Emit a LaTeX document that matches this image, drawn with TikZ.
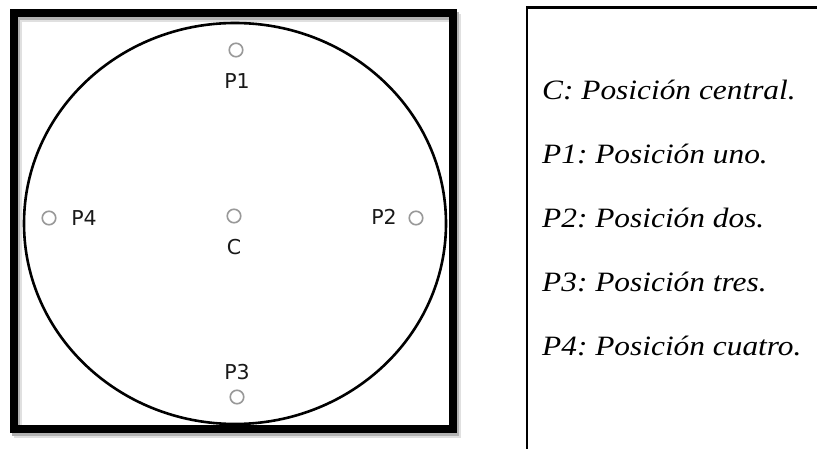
\documentclass[tikz,border=0pt]{standalone}
\usepackage{fontspec}
\usepackage{graphicx}
\setmainfont{Liberation Serif}[ItalicFont=Liberation Serif Italic]
\newfontfamily\timesit{Liberation Serif Italic}
\newfontfamily\dejavu{DejaVu Sans}
\frenchspacing
\begin{document}
\begin{tikzpicture}[x=1pt,y=-1pt,
  posmark/.style={circle,draw=gray!80,line width=1.6pt,minimum size=13.5pt,inner sep=0pt},
  lbl/.style={font=\dejavu\fontsize{20.5}{22}\selectfont,text=black!90,inner sep=0pt},
  legend/.style={anchor=base west,inner sep=0pt,font=\timesit\fontsize{28}{32}\selectfont}]
\useasboundingbox (0,0) rectangle (817,449);
\fill[white] (0,0) rectangle (817,449);
% shadow of frame
\draw[line width=8pt,black!12] (17.5,18) rectangle (457,434);
\draw[line width=8pt,black!30] (15.5,16) rectangle (455,432);
% frame
\draw[line width=8pt] (13.5,13.5) rectangle (452.5,429);
% big circle
\draw[line width=2.6pt] (235,223.5) ellipse [x radius=211, y radius=200.5];
% positions
\node[posmark] (c) at (234,216) {};
\node[posmark] (p1) at (236,50) {};
\node[posmark] (p2) at (416,218) {};
\node[posmark] (p3) at (237,397) {};
\node[posmark] (p4) at (49,218) {};
\node[lbl] (lc) at (234,247) {C};
\node[lbl] (l1) at (237,81) {P1};
\node[lbl] (l2) at (384,217) {P2};
\node[lbl] (l3) at (237,372) {P3};
\node[lbl] (l4) at (84,218) {P4};
% legend panel
\coordinate (ptop) at (527,7.5);
\coordinate (pbot) at (527,449);
\coordinate (pright) at (817,7.5);
\draw[line width=2.2pt] (pbot) -- (ptop) -- (pright);
\node[legend] (t0) at (542,100) {\scalebox{1.12}[1]{C: Posición central.}};
\node[legend] (t1) at (542,164) {\scalebox{1.12}[1]{P1: Posición uno.}};
\node[legend] (t2) at (542,228) {\scalebox{1.12}[1]{P2: Posición dos.}};
\node[legend] (t3) at (542,291) {\scalebox{1.12}[1]{P3: Posición tres.}};
\node[legend] (t4) at (542,355) {\scalebox{1.12}[1]{P4: Posición cuatro.}};
\end{tikzpicture}
\end{document}
